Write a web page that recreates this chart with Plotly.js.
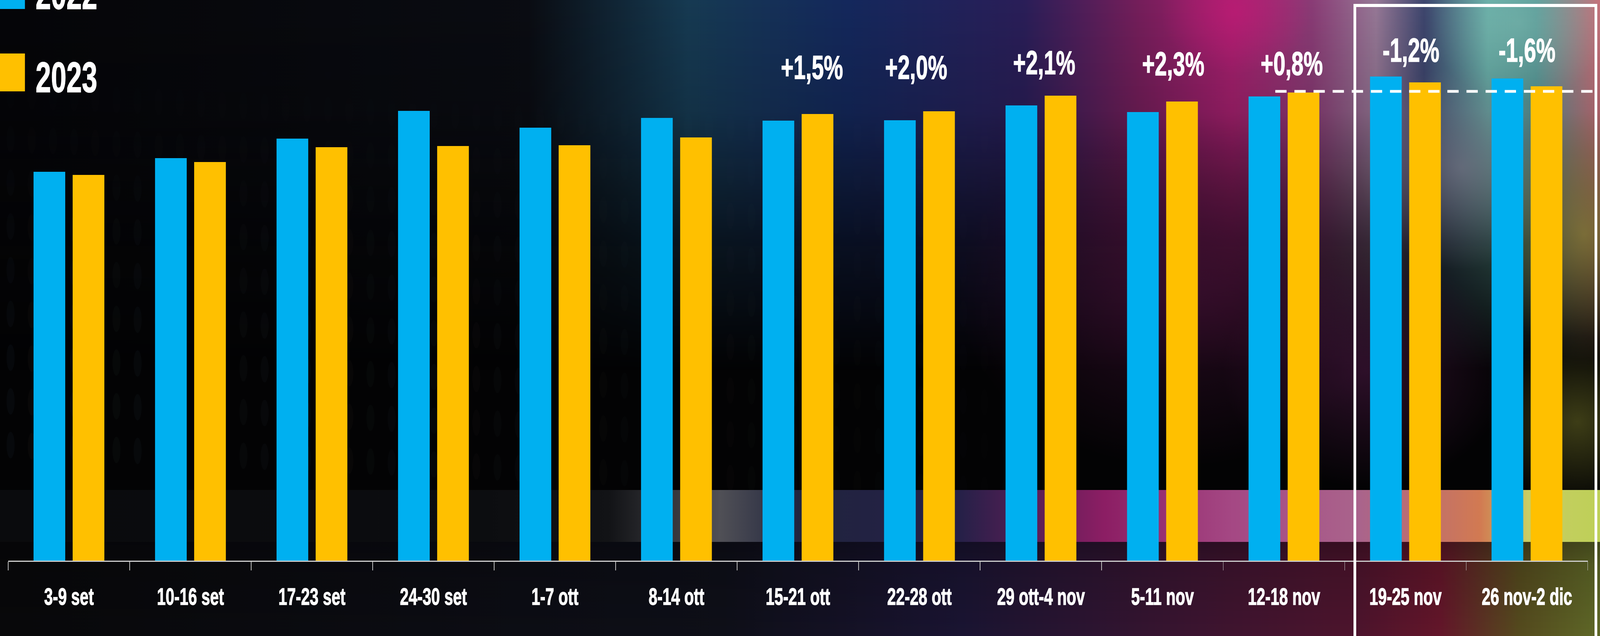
<!DOCTYPE html>
<html>
<head>
<meta charset="utf-8">
<script src="https://cdn.plot.ly/plotly-3.0.1.min.js"></script>
<style>
html,body{margin:0;padding:0;background:#000;overflow:hidden;}
#chart{width:4686px;height:1629px;transform-origin:0 0;}
#chart .xtick text, #chart .annotation-text{stroke:#ffffff;stroke-width:1.5px;paint-order:stroke;}
</style>
</head>
<body>
<div id="chart"></div>
<script>
// ---------- DATA ----------
const weeks = ['3-9 set','10-16 set','17-23 set','24-30 set','1-7 ott','8-14 ott','15-21 ott','22-28 ott','29 ott-4 nov','5-11 nov','12-18 nov','19-25 nov','26 nov-2 dic'];
const seriesNames = ['2022','2023'];
const values2022 = [99.6,103.1,108.1,115.2,110.9,113.4,112.7,112.8,116.6,114.9,118.9,124.0,123.5];
const values2023 = [98.8,102.1,105.9,106.2,106.4,108.4,114.4,115.1,119.1,117.6,119.9,122.5,121.5];
const changeLabels = ['','','','','','','+1,5%','+2,0%','+2,1%','+2,3%','+0,8%','-1,2%','-1,6%'];
const referenceLevel = 120.2;

// ---------- STYLE / LAYOUT CONSTANTS ----------
const W = 4686, H = 1629;
const M = {l:24, r:36, t:0, b:193};
const plotW = W - M.l - M.r, plotH = H - M.t - M.b;
const colors = ['#00B0F0','#FFC000'];
const FONT = "'Liberation Sans',Arial,sans-serif";
const CONDENSE = 0.74;
const labelCapCenterPx = [0,0,0,0,0,0,172,172,160,163,162,128,128];
const labelXShift = [0,0,0,0,0,0,41,-10,9,31,23,16,0];

// fit the 4686x1629 design into the actual window
(function fit(){
  const sx = Math.min(1, (window.innerWidth || W) / W);
  const sy = Math.min(1, (window.innerHeight || H) / H);
  document.getElementById('chart').style.transform = 'scale(' + sx + ',' + sy + ')';
})();

// ---------- BACKGROUND (decorative, canvas) ----------
function makeBackground(){
  const c = document.createElement('canvas'); c.width = W; c.height = H;
  const g = c.getContext('2d');
  g.fillStyle = '#030304'; g.fillRect(0,0,W,H);
  function hLayer(y0,y1,stops,vAlpha){
    const o = document.createElement('canvas'); o.width = W; o.height = H;
    const og = o.getContext('2d');
    const lg = og.createLinearGradient(0,0,W,0);
    stops.forEach(s=>lg.addColorStop(s[0], 'rgb('+s[1]+')'));
    og.fillStyle = lg; og.fillRect(0,y0,W,y1-y0);
    og.globalCompositeOperation = 'destination-in';
    const vg = og.createLinearGradient(0,y0,0,y1);
    vAlpha.forEach(s=>vg.addColorStop(s[0], 'rgba(0,0,0,'+s[1]+')'));
    og.fillStyle = vg; og.fillRect(0,y0,W,y1-y0);
    g.drawImage(o,0,0);
  }
  function blob(x,y,rx,ry,col,a){
    g.save(); g.translate(x,y); g.scale(1,ry/rx);
    const gr = g.createRadialGradient(0,0,0,0,0,rx);
    gr.addColorStop(0,'rgba('+col+','+a+')');
    gr.addColorStop(1,'rgba('+col+',0)');
    g.fillStyle = gr; g.fillRect(-rx,-rx,2*rx,2*rx); g.restore();
  }
  const dotCols = ['70,90,110','90,80,70','70,95,85'];
  for(let y=20;y<1250;y+=112){
    for(let x=0;x<3000;x+=62){
      const fade = Math.max(0, 1 - x/3200);
      g.fillStyle = 'rgba('+dotCols[(x/62)%3|0]+','+(0.06*fade+0.02)+')';
      g.beginPath(); g.ellipse(x + (y%224?31:0), y + x*0.04, 12, 34, 0, 0, Math.PI*2); g.fill();
    }
  }
  hLayer(0,950,[[0,'5,5,8'],[0.33,'10,12,18'],[0.43,'22,58,82'],[0.53,'20,40,92'],[0.64,'42,30,88'],[0.71,'115,30,90'],[0.77,'165,32,110'],[0.82,'138,60,118'],[0.86,'150,120,150'],[0.89,'62,70,110'],[0.93,'100,170,165'],[0.96,'85,150,150'],[1,'200,112,122']],
    [[0,1],[0.3,0.85],[0.65,0.35],[1,0]]);
  blob(3450,750,650,450,'70,18,58',0.55);
  blob(4280,430,300,260,'135,125,145',0.55);
  blob(4640,600,280,320,'160,150,60',0.6);
  blob(4000,950,420,300,'95,30,85',0.45);
  blob(4620,1080,260,220,'100,100,35',0.6);
  blob(3620,30,220,160,'200,25,120',0.55);
  blob(4450,60,260,200,'140,200,185',0.4);
  hLayer(1255,1388,[[0,'10,11,13'],[0.3,'12,13,16'],[0.38,'18,19,22'],[0.45,'80,80,86'],[0.5,'32,36,62'],[0.6,'38,32,72'],[0.69,'140,30,100'],[0.77,'165,72,132'],[0.85,'170,100,140'],[0.925,'210,122,82'],[0.955,'200,205,100'],[1,'190,208,88']],
    [[0,1],[1,1]]);
  hLayer(1388,H,[[0,'8,8,10'],[0.45,'14,15,24'],[0.6,'26,20,50'],[0.75,'60,20,48'],[0.85,'78,20,45'],[0.9,'100,22,42'],[0.95,'85,75,30'],[1,'95,105,40']],
    [[0,0.7],[0.25,0.85],[1,1]]);
  return c.toDataURL('image/png');
}

// ---------- TRACES ----------
const traces = [values2022, values2023].map((vals,i)=>({
  type:'bar', name:seriesNames[i], x:weeks, y:vals,
  marker:{color:colors[i], line:{width:0}},
  hoverinfo:'skip'
}));

// ---------- ANNOTATIONS ----------
const annotations = [];
changeLabels.forEach((t,i)=>{
  if(!t) return;
  annotations.push({xref:'x', x:weeks[i], yref:'paper', y:1, yanchor:'middle', xanchor:'center',
    yshift:-labelCapCenterPx[i], xshift:labelXShift[i], showarrow:false, text:t,
    font:{family:FONT, size:86, color:'#ffffff', weight:700}});
});
seriesNames.forEach((n,i)=>{
  annotations.push({xref:'paper', x:0, yref:'paper', y:1, xanchor:'left', yanchor:'middle',
    xshift:78, yshift: (i===0? 16 : -197), showarrow:false, text:n,
    font:{family:FONT, size:110, color:'#ffffff', weight:700}});
});

// ---------- SHAPES ----------
const shapes = [
  {type:'rect', xref:'paper', yref:'paper', xsizemode:'pixel', ysizemode:'pixel', xanchor:0, yanchor:1,
   x0:-M.l, x1:73-M.l, y0:-23, y1:74, fillcolor:colors[0], line:{width:0}, layer:'above'},
  {type:'rect', xref:'paper', yref:'paper', xsizemode:'pixel', ysizemode:'pixel', xanchor:0, yanchor:1,
   x0:-M.l, x1:73-M.l, y0:-234, y1:-137, fillcolor:colors[1], line:{width:0}, layer:'above'},
  {type:'line', xref:'paper', yref:'y', x0:(3735-M.l)/plotW, x1:(W-M.l)/plotW, y0:referenceLevel, y1:referenceLevel,
   line:{color:'#ffffff', width:7, dash:'33px,23px'}, layer:'above'},
  {type:'rect', xref:'paper', yref:'paper', x0:(3968-M.l)/plotW, x1:(4674-M.l)/plotW, y0:-0.25, y1:(plotH-14)/plotH,
   line:{color:'#ffffff', width:8}, fillcolor:'rgba(0,0,0,0)', layer:'above'}
];

const layout = {
  width:W, height:H,
  margin:M,
  paper_bgcolor:'#000000', plot_bgcolor:'rgba(0,0,0,0)',
  showlegend:false,
  barmode:'group', bargap:0.356, bargroupgap:0.19,
  font:{family:FONT, color:'#ffffff'},
  xaxis:{
    type:'category', showgrid:false, zeroline:false,
    showline:true, linecolor:'#cfcfcf', linewidth:3,
    ticks:'outside', tickson:'boundaries', ticklen:22, tickwidth:2, tickcolor:'#bdbdbd',
    tickangle:0,
    tickfont:{family:FONT, size:62, color:'#ffffff', weight:700},
    ticklabelstandoff:36, fixedrange:true
  },
  yaxis:{range:[0, plotH/10], visible:false, showgrid:false, zeroline:false, fixedrange:true},
  annotations:annotations,
  shapes:shapes,
  images:[{source:makeBackground(), xref:'paper', yref:'paper', x:-M.l/plotW, y:1+M.t/plotH,
    sizex:W/plotW, sizey:H/plotH, xanchor:'left', yanchor:'top', sizing:'stretch', layer:'below'}]
};

// condense the available sans face horizontally to imitate the condensed typeface
function condenseTexts(gd){
  gd.querySelectorAll('.xtick text, .annotation-text').forEach(el=>{
    const bb = el.getBBox();
    const leftAnchored = seriesNames.indexOf(el.textContent) >= 0;
    const px = leftAnchored ? bb.x : bb.x + bb.width/2;
    const t = el.getAttribute('transform') || '';
    el.setAttribute('transform', (t+' translate('+px+',0) scale('+CONDENSE+',1) translate('+(-px)+',0)').trim());
  });
}

Plotly.newPlot('chart', traces, layout, {staticPlot:true, displayModeBar:false}).then(condenseTexts);
</script>
</body>
</html>
